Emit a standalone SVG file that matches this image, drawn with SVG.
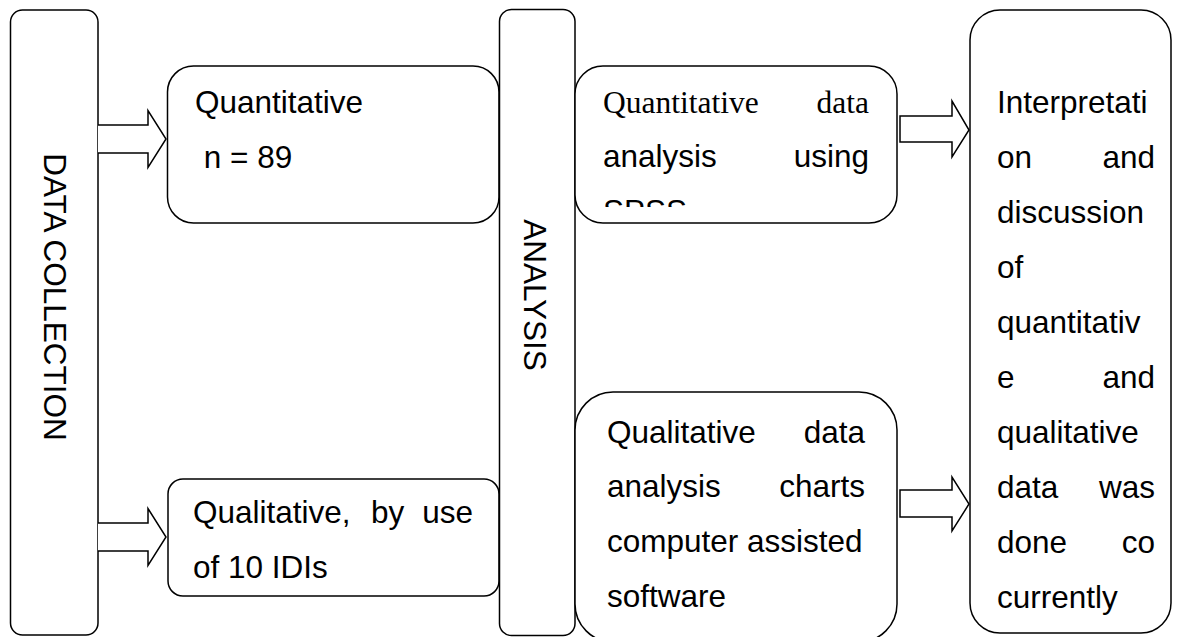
<svg xmlns="http://www.w3.org/2000/svg" width="1182" height="637" viewBox="0 0 1182 637">
<style>
.box{fill:#fff;stroke:#000;stroke-width:1.5}
.arr{fill:#fff;stroke:#000;stroke-width:1.5;stroke-linejoin:miter}
text{font-family:"Liberation Sans",Arial,sans-serif;font-size:31.5px;fill:#000}
.serif{font-family:"Liberation Serif","Times New Roman",serif}
.end{text-anchor:end}
.mid{text-anchor:middle}
</style>
<defs>
<clipPath id="clipQ"><rect x="576" y="67" width="320" height="140"/></clipPath>
</defs>
<rect width="1182" height="637" fill="#fff"/>

<g id="data-collection">
<rect class="box" x="10.5" y="10" width="87.5" height="625" rx="12"/>
<text class="mid" transform="translate(44,297) rotate(90)">DATA COLLECTION</text>
</g>

<g id="quantitative">
<rect class="box" x="167.5" y="66" width="331.5" height="157" rx="26"/>
<text x="195" y="113">Quantitative</text>
<text x="195" y="168" xml:space="preserve"> n = 89</text>
</g>

<g id="qualitative">
<rect class="box" x="168" y="479" width="331" height="117" rx="15"/>
<text x="193" y="523">Qualitative,</text>
<text x="371" y="523">by</text>
<text class="end" x="473" y="523">use</text>
<text x="193" y="578">of 10 IDIs</text>
</g>

<g id="analysis">
<rect class="box" x="499.5" y="9.5" width="75.5" height="626" rx="12"/>
<text class="mid" transform="translate(524,295) rotate(90)">ANALYSIS</text>
</g>

<g id="quant-analysis">
<rect class="box" x="575" y="66" width="322" height="157" rx="28"/>
<g clip-path="url(#clipQ)">
<text class="serif" x="603" y="113">Quantitative</text>
<text class="serif end" x="869" y="113">data</text>
<text x="603" y="167">analysis</text>
<text class="end" x="869" y="167">using</text>
<text x="603" y="222">SPSS</text>
</g>
</g>

<g id="qual-analysis">
<rect class="box" x="575" y="392" width="322" height="250" rx="38"/>
<text x="607" y="443">Qualitative</text>
<text class="end" x="865" y="443">data</text>
<text x="607" y="497">analysis</text>
<text class="end" x="865" y="497">charts</text>
<text x="607" y="552">computer assisted</text>
<text x="607" y="607">software</text>
</g>

<g id="interpretation">
<rect class="box" x="970" y="10" width="201" height="623" rx="30"/>
<text x="997" y="113">Interpretati</text>
<text x="997" y="168">on</text>
<text class="end" x="1155" y="168">and</text>
<text x="997" y="223">discussion</text>
<text x="997" y="278">of</text>
<text x="997" y="333">quantitativ</text>
<text x="997" y="388">e</text>
<text class="end" x="1155" y="388">and</text>
<text x="997" y="443">qualitative</text>
<text x="997" y="498">data</text>
<text class="end" x="1155" y="498">was</text>
<text x="997" y="553">done</text>
<text class="end" x="1155" y="553">co</text>
<text x="997" y="608">currently</text>
</g>

<g id="connectors">
<path class="arr" d="M98,125 H148 V110.5 L166,139 L148,167.5 V153 H98"/>
<path class="arr" d="M98,523 H148 V508.5 L166,537 L148,565.5 V551 H98"/>
<path class="arr" d="M900,116 H952 V101 L969,130 L952,157 V142 H900 Z"/>
<path class="arr" d="M900,490 H952 V477 L969,504 L952,531 V517 H900 Z"/>
</g>
</svg>
